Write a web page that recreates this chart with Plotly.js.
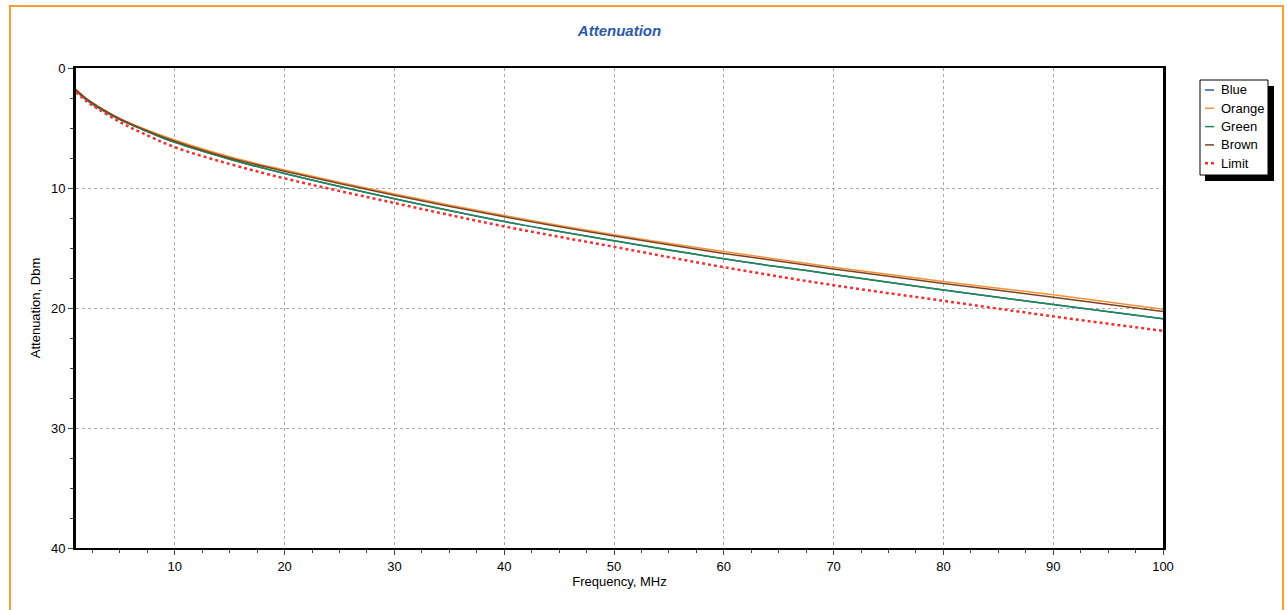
<!DOCTYPE html>
<html><head><script src="https://cdn.plot.ly/plotly-3.0.1.min.js"></script>
<style>body{margin:0;background:#fff}</style></head><body>
<div id="c" style="width:1287px;height:610px"></div>
<script>
const freq   = [1,2,3,5,7,10,15,20,30,40,50,60,70,80,90,100];
const blue   = [1.9,2.7,3.3,4.3,5.1,6.2,7.6,8.8,10.9,12.8,14.4,15.9,17.2,18.5,19.7,20.9];
const orange = [1.8,2.6,3.2,4.2,5.0,6.0,7.4,8.5,10.5,12.3,13.9,15.3,16.6,17.8,18.9,20.1];
const green  = [1.9,2.7,3.3,4.3,5.1,6.2,7.6,8.8,10.9,12.8,14.4,15.9,17.2,18.5,19.7,20.9];
const brown  = [1.8,2.6,3.2,4.25,5.05,6.1,7.5,8.6,10.6,12.4,14.0,15.45,16.75,17.95,19.1,20.3];
const limit  = [2.0,2.8,3.4,4.5,5.4,6.6,8.0,9.2,11.25,13.2,14.9,16.6,18.1,19.4,20.7,21.9];
const names = ['Blue','Orange','Green','Brown','Limit'];
const series = [blue,orange,green,brown,limit];
const colors = ['#2a5aa8','#f5903a','#1e8a4e','#7a4420','#f03030'];
const traces = series.map((s,i)=>({x:freq,y:s,name:names[i],type:'scatter',mode:'lines',
  line:{color:colors[i],width:i===4?2.5:1.5,dash:i===4?'dot':'solid',shape:'spline'}}));
const px=x=>(x-76)/1087, py=y=>(548-y)/480;
const shapes=[
  {type:'rect',xref:'paper',yref:'paper',x0:px(10),x1:px(1283),y0:-0.2,y1:py(6),line:{color:'#f7a030',width:2}},
  {type:'rect',xref:'paper',yref:'paper',x0:px(1205),x1:px(1274),y0:py(181),y1:py(86),fillcolor:'#000',line:{width:0}},
  {type:'rect',xref:'paper',yref:'paper',x0:px(1200),x1:px(1268),y0:py(175),y1:py(80),fillcolor:'#fff',line:{color:'#000',width:1}}
];
const annotations=[];
names.forEach((n,i)=>{
  const yy=90+i*18.3;
  shapes.push({type:'line',xref:'paper',yref:'paper',x0:px(1205),x1:px(1214),y0:py(yy),y1:py(yy),
    line:{color:colors[i],width:i===4?2.5:1.5,dash:i===4?'dot':'solid'}});
  annotations.push({xref:'paper',yref:'paper',x:px(1219),y:py(yy),text:n,showarrow:false,xanchor:'left',yanchor:'middle',font:{size:13}});
});
const layout = {
  width:1287,height:610,margin:{l:76,r:124,t:68,b:62,autoexpand:false},
  paper_bgcolor:'#fff',plot_bgcolor:'#fff',showlegend:false,
  font:{family:'Liberation Sans, Arial',size:13,color:'#000'},
  title:{text:'<b><i>Attenuation</i></b>',x:0.5,xref:'paper',y:0.95,yanchor:'middle',yref:'container',font:{size:15,color:'#2a5aa8'}},
  xaxis:{range:[1,100],tickvals:[10,20,30,40,50,60,70,80,90,100],showgrid:true,gridcolor:'#aaa',griddash:'dot',
    showline:true,linecolor:'#000',linewidth:2,mirror:true,ticks:'outside',ticklen:5,
    minor:{dtick:2.5,tick0:0,ticks:'outside',ticklen:3,showgrid:false},
    title:{text:'Frequency, MHz',standoff:2,font:{size:13}},zeroline:false},
  yaxis:{range:[40,0],tickvals:[0,10,20,30,40],showgrid:true,gridcolor:'#aaa',griddash:'dot',
    showline:true,linecolor:'#000',linewidth:3,mirror:true,ticks:'outside',ticklen:5,
    minor:{dtick:2.5,ticks:'outside',ticklen:3,showgrid:false},
    title:{text:'Attenuation, Dbm',standoff:8,font:{size:13}},zeroline:false},
  shapes, annotations
};
Plotly.newPlot('c',traces,layout,{displayModeBar:false});
</script></body></html>
